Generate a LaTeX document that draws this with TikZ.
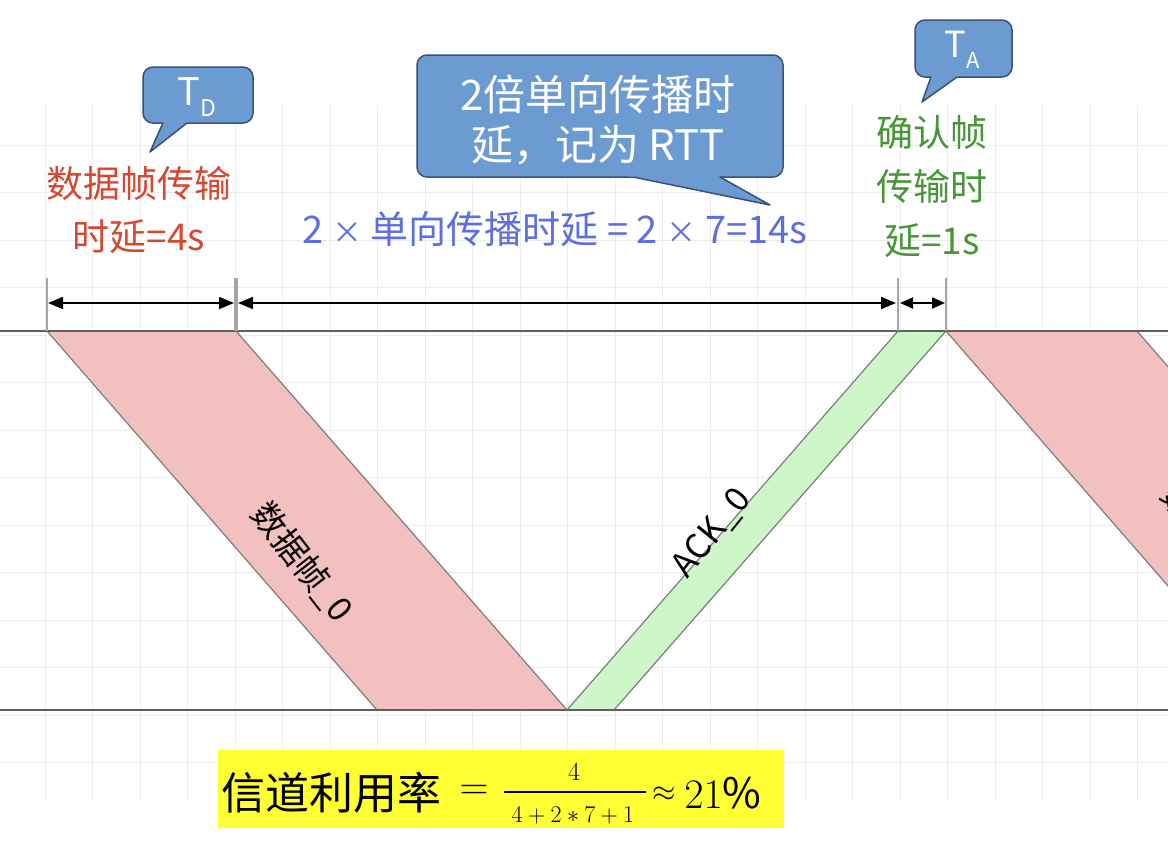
\RequirePackage{fix-cm}
\documentclass[tikz,border=0pt]{standalone}
\usepackage{fontspec}
\setmainfont{Noto Sans CJK SC}
\usetikzlibrary{arrows.meta,calc}
\definecolor{gridc}{RGB}{236,236,236}
\definecolor{linec}{RGB}{95,95,95}
\definecolor{tickc}{RGB}{165,165,165}
\definecolor{pinkf}{RGB}{243,192,192}
\definecolor{greenf}{RGB}{205,247,200}
\definecolor{bandb}{RGB}{125,125,125}
\definecolor{callf}{RGB}{108,155,210}
\definecolor{calld}{RGB}{55,82,118}
\definecolor{redt}{RGB}{214,72,50}
\definecolor{bluet}{RGB}{92,110,226}
\definecolor{greent}{RGB}{72,150,55}
\definecolor{yel}{RGB}{255,255,51}
\newcommand\mycallout[8]{%
  \draw[callbox] (#1,#2) rectangle (#3,#4);
  \coordinate (cbl) at (#5,#4);
  \coordinate (cbr) at (#6,#4);
  \coordinate (ctip) at (#7,#8);
  \fill[callf] ($(ctip)!1.15!(cbl)$) -- (ctip) -- ($(ctip)!1.15!(cbr)$) -- cycle;
  \draw[calld, line width=1.5, line join=round] (cbl) -- (ctip) -- (cbr);
}
\newcommand\smx{{\fontsize{30}{30}\selectfont ×}}
\begin{document}
\begin{tikzpicture}[x=1pt,y=-1pt,
  gridline/.style={draw=gridc, line width=1},
  axisline/.style={draw=linec, line width=2.4},
  databand/.style={fill=pinkf, draw=bandb, line width=1.2},
  ackband/.style={fill=greenf, draw=bandb, line width=1.2},
  tickline/.style={draw=tickc, line width=1.6},
  dimarrow/.style={line width=1.8, {Triangle[length=15,width=12]}-{Triangle[length=15,width=12]}},
  callbox/.style={fill=callf, draw=calld, line width=1.5, rounded corners=10},
  calltext/.style={text=white, inner sep=0, align=center},
  bandlabel/.style={font=\fontsize{34}{34}\selectfont, inner sep=0},
  redlabel/.style={text=redt, font=\fontsize{37}{53}\selectfont, align=center, inner sep=0},
  greenlabel/.style={text=greent, font=\fontsize{37}{54}\selectfont, align=center, inner sep=0},
  bluelabel/.style={text=bluet, font=\fontsize{38}{38}\selectfont, inner sep=0},
  formula/.style={text=black, inner sep=0},
]
\useasboundingbox (0,0) rectangle (1168,846);
\fill[white] (0,0) rectangle (1168,846);
\begin{scope}
\clip (0,0) rectangle (1168,846);
% grid
\foreach \i in {0,...,23} \draw[gridline] ({45+47.5*\i},105) -- ({45+47.5*\i},800);
\foreach \j in {0,...,13} \draw[gridline] (0,{145+47.5*\j}) -- (1168,{145+47.5*\j});

% band corners
\coordinate (d0a) at (47,331);  \coordinate (d0b) at (236,331);
\coordinate (d0c) at (567,710); \coordinate (d0d) at (377,710);
\coordinate (k0a) at (898,331); \coordinate (k0b) at (946,331);
\coordinate (k0c) at (614,710); \coordinate (k0d) at (567,710);
\coordinate (d1a) at (946,331); \coordinate (d1b) at (1137,331);
\coordinate (d1c) at (1467,710); \coordinate (d1d) at (1276,710);

\draw[databand] (d0a) -- (d0b) -- (d0c) -- (d0d) -- cycle;
\draw[ackband] (k0a) -- (k0b) -- (k0c) -- (k0d) -- cycle;
\draw[databand] (d1a) -- (d1b) -- (d1c) -- (d1d) -- cycle;

\node[bandlabel, rotate=-52] (lab0) at (302,562) {数据帧\_0};
\node[bandlabel, rotate=51] (lab1) at (712,533) {ACK\_0};
\node[bandlabel, rotate=-52] (lab2) at (1212,544) {数据帧\_1};

% axes
\coordinate (ta0) at (0,331); \coordinate (ta1) at (1168,331);
\coordinate (ba0) at (0,710); \coordinate (ba1) at (1168,710);
\draw[axisline] (ta0) -- (ta1);
\draw[axisline] (ba0) -- (ba1);
\end{scope}

% ticks
\coordinate (p1) at (47,278);  \coordinate (q1) at (47,331);
\coordinate (p2) at (236,278); \coordinate (q2) at (236,331);
\coordinate (p3) at (898,278); \coordinate (q3) at (898,331);
\coordinate (p4) at (946,278); \coordinate (q4) at (946,331);
\draw[tickline] (p1) -- (q1);
\draw[tickline, line width=3.5] (p2) -- (q2);
\draw[tickline] (p3) -- (q3);
\draw[tickline] (p4) -- (q4);

% dimension arrows
\coordinate (a1) at (48,303);  \coordinate (a2) at (234,303);
\coordinate (a3) at (238,303); \coordinate (a4) at (896,303);
\coordinate (a5) at (900,303); \coordinate (a6) at (945,303);
\draw[dimarrow] (a1) -- (a2);
\draw[dimarrow] (a3) -- (a4);
\draw[dimarrow, {Triangle[length=13,width=11]}-{Triangle[length=13,width=11]}] (a5) -- (a6);

% labels
\node[redlabel] (tdtext) at (139,210) {数据帧传输\\时延=4s};
\node[bluelabel] (rtttext) at (555,229) {2 \smx{} 单向传播时延 = 2 \smx{} 7=14s};
\node[greenlabel] (tatext) at (932,187) {确认帧\\传输时\\延=1s};

% callouts
\mycallout{143}{67}{253}{123}{163}{187}{150}{152}
\node[calltext, font=\fontsize{38}{38}\selectfont] (tdcall) at (197,97) {T\raisebox{-0.3em}{\fontsize{23}{23}\selectfont D}};
\mycallout{417}{55}{783}{177}{633}{720}{770}{205}
\node[calltext, font=\fontsize{42}{50}\selectfont] (rttcall) at (598,120) {2倍单向传播时\\延，记为 RTT};
\mycallout{915}{20}{1012}{77}{931}{957}{922}{102}
\node[calltext, font=\fontsize{36}{36}\selectfont] (tacall) at (962,50) {T\raisebox{-0.3em}{\fontsize{22}{22}\selectfont A}};

% formula
\fill[yel] (218,750) rectangle (784,828);
\node[formula, font=\fontsize{44}{44}\selectfont] (fcn) at (331,793) {信道利用率};
\node[formula, font=\fontsize{40}{40}\selectfont] (feq) at (474,792) {$=$};
\node[formula, font=\fontsize{26}{26}\selectfont] (fnum) at (574,772) {$4$};
\node[formula, font=\fontsize{24}{24}\selectfont] (fden) at (573,816) {$4+2*7+1$};
\coordinate (fb1) at (504,792); \coordinate (fb2) at (646,792);
\draw[line width=2.2] (fb1) -- (fb2);
\node[formula, font=\fontsize{30}{30}\selectfont] (fap) at (664,794) {$\approx$};
\node[formula, font=\fontsize{42}{42}\selectfont] (fpc) at (723,793) {$21\%$};
\end{tikzpicture}
\end{document}
